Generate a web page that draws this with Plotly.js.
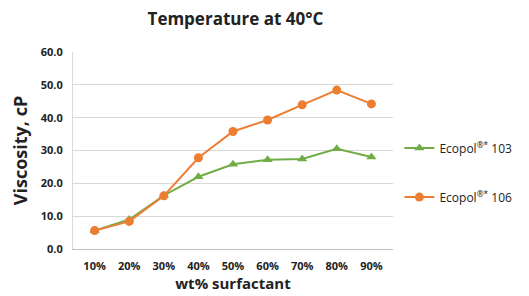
<!DOCTYPE html>
<html>
<head>
<meta charset="utf-8">
<script src="https://cdn.plot.ly/plotly-3.0.1.min.js"></script>
<style>html,body{margin:0;padding:0;background:#fff;}#chart{width:529px;height:296px;}</style>
</head>
<body>
<div id="chart"></div>
<script>
const categories = ["10%","20%","30%","40%","50%","60%","70%","80%","90%"];
const ecopol103 = [5.6, 9.0, 16.3, 22.0, 25.8, 27.2, 27.4, 30.5, 28.0];
const ecopol106 = [5.6, 8.4, 16.2, 27.8, 35.8, 39.3, 43.9, 48.4, 44.2];
const seriesNames = ["Ecopol<sup>®*</sup> 103", "Ecopol<sup>®*</sup> 106"];
const yTicks = [0, 10, 20, 30, 40, 50, 60];

const FONT = "Open Sans, Noto Sans, sans-serif";

const traces = [
  {
    x: categories, y: ecopol103, name: seriesNames[0], type: "scatter", mode: "lines+markers",
    line: {color: "#70AD47", width: 2}, marker: {symbol: "triangle-up", size: 9, color: "#70AD47"},
    legendgroup: "a"
  },
  {
    x: categories, y: ecopol106, name: seriesNames[1], type: "scatter", mode: "lines+markers",
    line: {color: "#ED7D31", width: 2}, marker: {symbol: "circle", size: 9, color: "#ED7D31"},
    legendgroup: "b"
  }
];

const layout = {
  width: 529, height: 296,
  margin: {l: 73, r: 136, t: 52, b: 47},
  paper_bgcolor: "#fff", plot_bgcolor: "#fff",
  font: {family: FONT, color: "#222"},
  title: {text: "<b>Temperature at 40°C</b>", font: {size: 17, color: "#222", family: FONT}, x: 0.445, xanchor: "center", y: 0.935, yanchor: "middle"},
  xaxis: {
    type: "category", showgrid: false, showline: true, linecolor: "#BFBFBF", linewidth: 1,
    ticks: "", tickfont: {size: 11, color: "#222", family: FONT}, ticklen: 0, ticklabelstandoff: 7,
    tickvals: categories, ticktext: categories.map(c => "<b>" + c + "</b>"),
    title: {text: "<b>wt% surfactant</b>", font: {size: 15, color: "#222", family: FONT}, standoff: 6},
    automargin: false, fixedrange: true
  },
  yaxis: {
    range: [0, 60], tickvals: yTicks, ticktext: yTicks.map(v => "<b>" + v.toFixed(1) + "</b>"),
    showgrid: true, gridcolor: "#D9D9D9", gridwidth: 1, zeroline: false,
    showline: true, linecolor: "#D9D9D9", linewidth: 1,
    ticks: "", tickfont: {size: 11, color: "#222", family: FONT}, ticklabelstandoff: 7,
    title: {text: "<b>Viscosity, cP</b>", font: {size: 18, color: "#222", family: FONT}, standoff: 8},
    automargin: false, fixedrange: true
  },
  showlegend: true,
  legend: {
    x: 1.02, xanchor: "left", y: 0.388, yanchor: "middle",
    font: {size: 12, color: "#222", family: FONT},
    tracegroupgap: 30, traceorder: "grouped", itemwidth: 30,
    bgcolor: "rgba(0,0,0,0)"
  }
};

Plotly.newPlot("chart", traces, layout, {displayModeBar: false, staticPlot: true});
</script>
</body>
</html>
